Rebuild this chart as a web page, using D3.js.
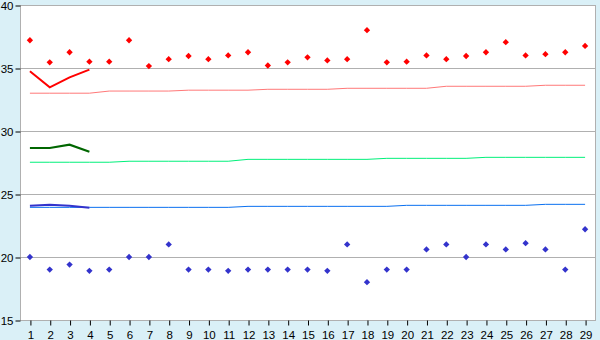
<!DOCTYPE html>
<html>
<head>
<script src="https://d3js.org/d3.v7.min.js"></script>
<style>
  body { margin: 0; background: #daf0f7; }
  text { font-family: "Liberation Sans", Arial, sans-serif; font-size: 11px; fill: #000; }
</style>
</head>
<body>
<script>
// categories 1..29
var days = d3.range(1, 30);
var yTicks = [15, 20, 25, 30, 35, 40];

// scatter points
var highs = [37.2, 35.45, 36.25, 35.5, 35.5, 37.2, 35.15, 35.7, 35.95, 35.7,
             36.0, 36.25, 35.2, 35.45, 35.85, 35.6, 35.7, 38.0, 35.45, 35.5,
             36.0, 35.7, 35.95, 36.25, 37.05, 36.0, 36.1, 36.25, 36.75];
var lows = [20.0, 19.0, 19.4, 18.9, 19.0, 20.0, 20.0, 21.0, 19.0, 19.0,
            18.9, 19.0, 19.0, 19.0, 19.0, 18.9, 21.0, 18.0, 19.0, 19.0,
            20.6, 21.0, 20.0, 21.0, 20.6, 21.1, 20.6, 19.0, 22.2];

// slow thin lines
var pinkLine = [33.0, 33.0, 33.0, 33.0, 33.17, 33.17, 33.17, 33.17, 33.24, 33.24,
                33.24, 33.24, 33.31, 33.31, 33.31, 33.31, 33.39, 33.39, 33.39, 33.39,
                33.39, 33.55, 33.55, 33.55, 33.55, 33.55, 33.63, 33.63, 33.63];
var greenLine = [27.52, 27.52, 27.52, 27.52, 27.52, 27.6, 27.6, 27.6, 27.6, 27.6,
                 27.6, 27.75, 27.75, 27.75, 27.75, 27.75, 27.75, 27.75, 27.83, 27.83,
                 27.83, 27.83, 27.83, 27.91, 27.91, 27.91, 27.91, 27.91, 27.91];
var blueLine = [23.94, 23.94, 23.94, 23.94, 23.94, 23.94, 23.94, 23.94, 23.94, 23.94,
                23.94, 24.02, 24.02, 24.02, 24.02, 24.02, 24.02, 24.02, 24.02, 24.1,
                24.1, 24.1, 24.1, 24.1, 24.1, 24.1, 24.18, 24.18, 24.18];

// short thick lines (first 4 days)
var redThick = [34.74, 33.47, 34.26, 34.87];
var greenThick = [28.65, 28.65, 28.91, 28.36];
var blueThick = [24.07, 24.15, 24.07, 23.91];

var width = 600, height = 340;
var plotL = 20, plotR = 595, plotT = 5, plotB = 320;

var svg = d3.select("body").append("svg").attr("width", width).attr("height", height)
   .style("display", "block");

var x = d3.scalePoint().domain(days).range([plotL, plotR]).padding(0.5);
var y = d3.scaleLinear().domain([15, 40]).range([plotB, plotT]);

svg.append("rect").attr("x", plotL).attr("y", plotT)
   .attr("width", plotR - plotL).attr("height", plotB - plotT)
   .attr("fill", "#fff");

// grid
svg.append("g").selectAll("line").data(yTicks).enter().append("line")
   .attr("x1", plotL).attr("x2", plotR)
   .attr("y1", function(d) { return Math.round(y(d)) + 0.5; })
   .attr("y2", function(d) { return Math.round(y(d)) + 0.5; })
   .attr("stroke", "#b0b0b0");

// frame
svg.append("rect").attr("x", plotL + 0.5).attr("y", plotT + 0.5)
   .attr("width", plotR - plotL).attr("height", plotB - plotT)
   .attr("fill", "none").attr("stroke", "#b0b0b0");

// y axis
var yAxis = svg.append("g").attr("transform", "translate(" + (plotL + 0.5) + ",0.5)")
   .call(d3.axisLeft(y).tickValues(yTicks).tickSize(5).tickSizeOuter(0).tickPadding(2));
yAxis.select(".domain").remove();
yAxis.selectAll("text").style("font-size", "11.5px");

// x axis
var xAxis = svg.append("g").attr("transform", "translate(0.5," + (plotB + 0.5) + ")")
   .call(d3.axisBottom(x).tickSize(5).tickSizeOuter(0).tickPadding(5));
xAxis.select(".domain").remove();
xAxis.selectAll("text").style("font-size", "11.5px");

var line = d3.line()
   .x(function(d, i) { return x(days[i]); })
   .y(function(d) { return y(d); });

function drawLine(data, color, w) {
  svg.append("path").datum(data)
     .attr("d", line)
     .attr("fill", "none")
     .attr("stroke", color)
     .attr("stroke-width", w);
}

drawLine(pinkLine, "#ff7878", 1);
drawLine(greenLine, "#00f07a", 1);
drawLine(blueLine, "#0a70f0", 1);
drawLine(redThick, "#ff0000", 2);
drawLine(greenThick, "#006600", 2.2);
drawLine(blueThick, "#3333cc", 2);

var marker = d3.symbol().type(d3.symbolSquare).size(20);

function drawPoints(data, color) {
  svg.append("g").selectAll("path").data(data).enter().append("path")
     .attr("d", marker)
     .attr("transform", function(d, i) {
       return "translate(" + x(days[i]) + "," + y(d) + ") rotate(45)";
     })
     .attr("fill", color);
}

drawPoints(highs, "#ff0000");
drawPoints(lows, "#3333cc");
</script>
</body>
</html>
